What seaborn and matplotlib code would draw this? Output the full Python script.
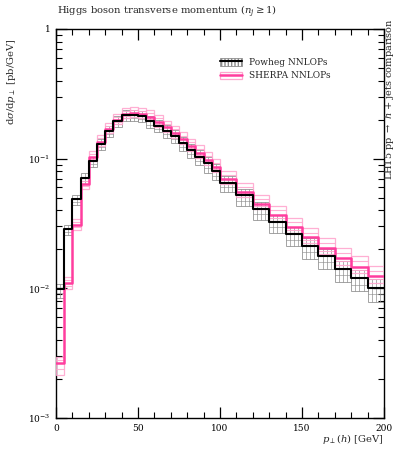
import numpy as np
import pandas as pd
import matplotlib
matplotlib.use("Agg")
import matplotlib.pyplot as plt
import seaborn as sns
from matplotlib.patches import Patch
from matplotlib.lines import Line2D
from matplotlib.legend_handler import HandlerTuple

# ---------------- data ----------------
bin_edges = [0, 5, 10, 15, 20, 25, 30, 35, 40, 45, 50, 55, 60, 65, 70, 75, 80, 85, 90, 95,
             100, 110, 120, 130, 140, 150, 160, 170, 180, 190, 200]

powheg = [0.0099, 0.0287, 0.0489, 0.0710, 0.0951, 0.1298, 0.162, 0.195, 0.2155, 0.217,
          0.213, 0.195, 0.180, 0.1644, 0.1496, 0.1314, 0.1167, 0.1036, 0.0918, 0.0804,
          0.0653, 0.0520, 0.0408, 0.0325, 0.0261, 0.0212, 0.0176, 0.0142, 0.0120, 0.0101]
powheg_up = [1.10, 1.08, 1.08, 1.09, 1.09, 1.10, 1.10, 1.10, 1.10, 1.10,
             1.10, 1.10, 1.11, 1.11, 1.11, 1.12, 1.12, 1.12, 1.12, 1.13,
             1.13, 1.13, 1.14, 1.14, 1.14, 1.15, 1.15, 1.15, 1.16, 1.16]
powheg_dn = [0.85, 0.90, 0.90, 0.90, 0.90, 0.90, 0.90, 0.90, 0.90, 0.90,
             0.90, 0.89, 0.89, 0.88, 0.88, 0.87, 0.86, 0.86, 0.85, 0.85,
             0.84, 0.83, 0.82, 0.82, 0.81, 0.80, 0.80, 0.79, 0.79, 0.78]
powheg_mid = [0.93, 0.95, 0.95, 0.95, 0.95, 0.95, 0.95, 0.95, 0.95, 0.95,
              0.95, 0.94, 0.94, 0.94, 0.94, 0.93, 0.93, 0.93, 0.92, 0.92,
              0.92, 0.91, 0.91, 0.91, 0.90, 0.90, 0.90, 0.89, 0.89, 0.89]

sherpa = [0.00266, 0.0110, 0.0308, 0.0638, 0.103, 0.135, 0.169, 0.199, 0.221, 0.225,
          0.221, 0.2097, 0.192, 0.174, 0.158, 0.1406, 0.1253, 0.1106, 0.0977, 0.0863,
          0.0697, 0.0558, 0.0451, 0.0368, 0.0296, 0.0247, 0.0205, 0.0171, 0.0147, 0.0124]
sherpa_up = [1.12, 1.12, 1.12, 1.12, 1.12, 1.12, 1.12, 1.12, 1.12, 1.12,
             1.12, 1.13, 1.13, 1.13, 1.14, 1.14, 1.14, 1.15, 1.15, 1.15,
             1.16, 1.16, 1.17, 1.17, 1.18, 1.18, 1.19, 1.19, 1.20, 1.20]
sherpa_dn = [0.80, 0.90, 0.92, 0.92, 0.93, 0.93, 0.93, 0.93, 0.93, 0.93,
             0.93, 0.93, 0.92, 0.92, 0.92, 0.92, 0.92, 0.91, 0.91, 0.91,
             0.91, 0.90, 0.90, 0.90, 0.90, 0.90, 0.89, 0.89, 0.89, 0.89]
sherpa_v1 = [1.06, 1.06, 1.06, 1.06, 1.06, 1.06, 1.06, 1.06, 1.06, 1.06,
             1.06, 1.07, 1.07, 1.07, 1.07, 1.07, 1.07, 1.08, 1.08, 1.08,
             1.08, 1.08, 1.09, 1.09, 1.09, 1.09, 1.10, 1.10, 1.10, 1.10]
sherpa_v2 = [0.90, 0.95, 0.96, 0.96, 0.97, 0.97, 0.97, 0.97, 0.97, 0.97,
             0.97, 0.97, 0.96, 0.96, 0.96, 0.96, 0.96, 0.96, 0.96, 0.96,
             0.95, 0.95, 0.95, 0.95, 0.95, 0.95, 0.95, 0.95, 0.95, 0.95]

labels = ["Powheg NNLOPs", "SHERPA NNLOPs"]
title = r"Higgs boson transverse momentum ($n_j \geq 1$)"
ylabel = r"d$\sigma$/d$p_\perp$ [pb/GeV]"
xlabel = r"$p_\perp(h)$ [GeV]"
side_text = r"LH15 pp $\rightarrow$ $h$ + jets comparison"

# ---------------- style ----------------
sns.set_theme(style="ticks")
plt.rcParams['font.family'] = ['DejaVu Serif']
plt.rcParams['mathtext.fontset'] = 'dejavuserif'

W, H = 394, 450
fig = plt.figure(figsize=(W / 100, H / 100), dpi=100)
ax = fig.add_axes([56 / W, 1 - 418 / H, (384 - 56) / W, (418 - 29) / H])

edges = np.array(bin_edges, dtype=float)
left = edges[:-1]
right = edges[1:]
width = np.diff(edges)

PINK = "#ff3d9e"
PINK_LIGHT = "#ffa6cf"
GREY = "#8c8c8c"

# powheg band: hatched boxes
p = np.array(powheg)
p_lo = p * np.array(powheg_dn)
p_hi = p * np.array(powheg_up)
ax.bar(left, p_hi - p_lo, bottom=p_lo, width=width, align='edge', fill=False,
       edgecolor=GREY, linewidth=0.7, alpha=0.8, zorder=2)
ax.hlines(p * np.array(powheg_mid), left, right, color=GREY, linewidth=0.6, alpha=0.7, zorder=2)
for l, w, lo, hi in zip(left, width, p_lo, p_hi):
    xs = np.arange(l + 2.5, l + w - 0.1, 2.5)
    ax.vlines(xs, lo, hi, color=GREY, linewidth=0.6, alpha=0.8, zorder=2)

# sherpa band: boxes with several variation lines
s = np.array(sherpa)
s_lo = s * np.array(sherpa_dn)
s_hi = s * np.array(sherpa_up)
ax.bar(left, s_hi - s_lo, bottom=s_lo, width=width, align='edge', fill=False,
       edgecolor=PINK_LIGHT, linewidth=0.9, alpha=0.9, zorder=3)
ax.hlines(s * np.array(sherpa_v1), left, right, color=PINK_LIGHT, linewidth=0.8, alpha=0.9, zorder=3)
ax.hlines(s * np.array(sherpa_v2), left, right, color=PINK_LIGHT, linewidth=0.8, alpha=0.9, zorder=3)

# central lines
df_p = pd.DataFrame({"x": edges, "y": list(powheg) + [powheg[-1]]})
df_s = pd.DataFrame({"x": edges, "y": list(sherpa) + [sherpa[-1]]})
sns.lineplot(data=df_p, x="x", y="y", ax=ax, color="black", linewidth=1.5,
             drawstyle="steps-post", estimator=None, zorder=5)
sns.lineplot(data=df_s, x="x", y="y", ax=ax, color=PINK, linewidth=1.8,
             drawstyle="steps-post", estimator=None, zorder=4)

ax.set_yscale("log")
ax.set_xlim(0, 200)
ax.set_ylim(1e-3, 1)
ax.set_xlabel("")
ax.set_ylabel("")

ax.set_xticks([0, 50, 100, 150, 200])
ax.set_xticks(np.arange(0, 201, 10), minor=True)
ax.set_yticks([1e-3, 1e-2, 1e-1, 1])
ax.set_yticklabels([r"$10^{-3}$", r"$10^{-2}$", r"$10^{-1}$", "1"])
ax.tick_params(which='both', direction='in', top=True, right=True, colors='black',
               labelsize=6.5, pad=4)
ax.tick_params(which='major', length=8, width=0.9)
ax.tick_params(which='minor', length=4, width=0.8)
for sp in ax.spines.values():
    sp.set_color('black')
    sp.set_linewidth(1.0)

# legend
h1 = (Patch(facecolor='none', edgecolor=GREY, hatch='|||||', linewidth=0.6),
      Line2D([], [], color='black', linewidth=1.5))
h2 = (Patch(facecolor='none', edgecolor=PINK_LIGHT, linewidth=0.9),
      Line2D([], [], color=PINK, linewidth=1.8))
leg = ax.legend([h1, h2], labels, handler_map={tuple: HandlerTuple(ndivide=1, pad=0)},
                loc='upper left', bbox_to_anchor=(0.49, 0.935), frameon=False,
                fontsize=6.5, handlelength=2.4, handleheight=0.9, labelspacing=0.5,
                handletextpad=0.8, borderaxespad=0)

fig.text(57 / W, 1 - 12 / H, title, ha='left', va='center', fontsize=7.2)
fig.text(12 / W, 1 - 38 / H, ylabel, ha='center', va='top', rotation=90, fontsize=7.2)
fig.text(384 / W, 1 - 439 / H, xlabel, ha='right', va='center', fontsize=7.2)
fig.text(389 / W, 1 - 18 / H, side_text, ha='center', va='top', rotation=90, fontsize=7.0)

fig.savefig("out.png", dpi=100)
